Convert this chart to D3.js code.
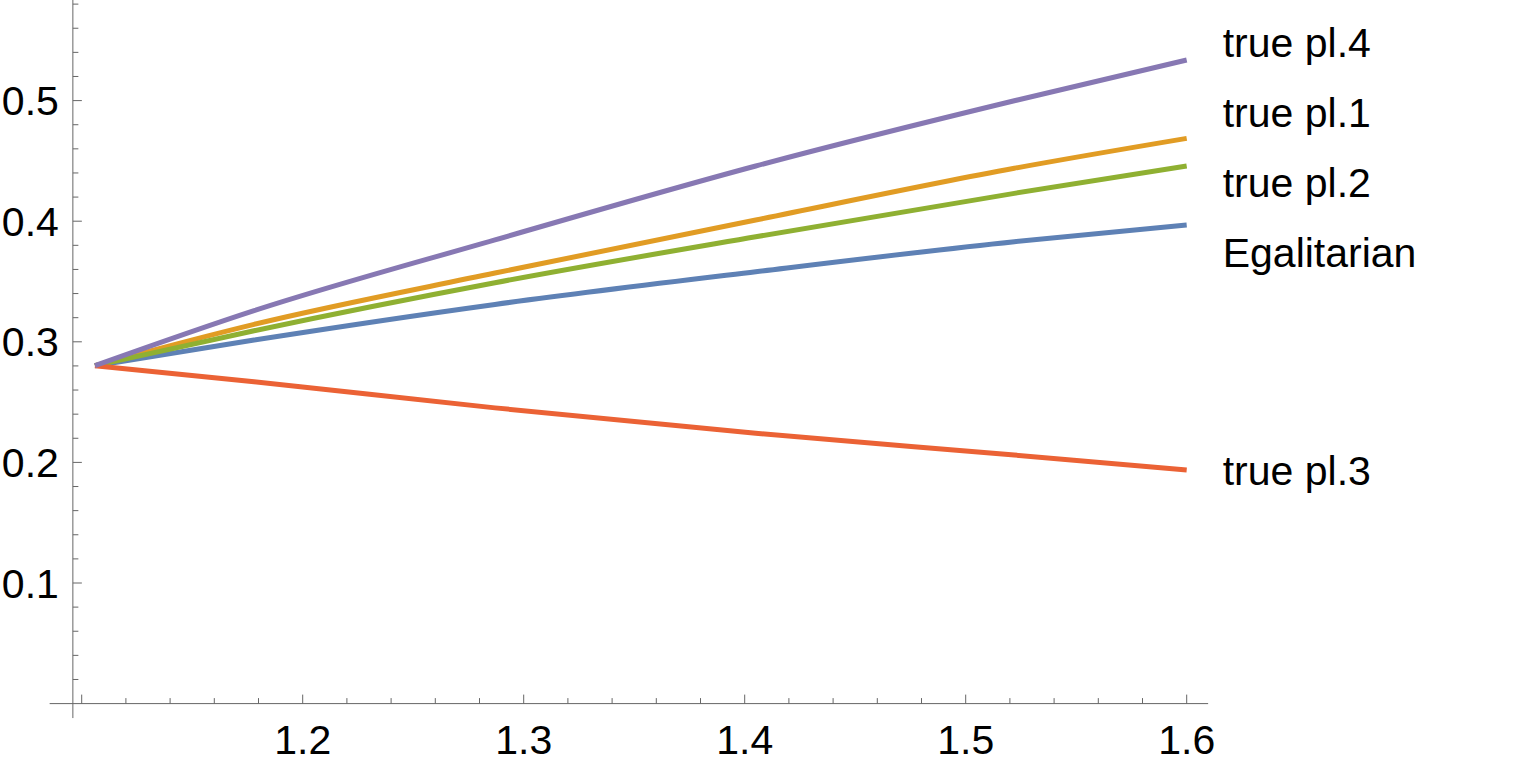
<!DOCTYPE html>
<html>
<head>
<meta charset="utf-8">
<script src="https://cdn.jsdelivr.net/npm/d3@7"></script>
<style>
  html, body { margin: 0; padding: 0; background: #fff; }
  svg { display: block; }
</style>
</head>
<body>
<svg id="chart" width="1536" height="765" font-family="'Liberation Sans', Arial, sans-serif"></svg>
<script>
// values
var xValues = [1.106, 1.178, 1.287, 1.405, 1.522, 1.6];
var seriesNames = ["Egalitarian", "true pl.1", "true pl.2", "true pl.3", "true pl.4"];
var egalitarian = [0.2802, 0.3015, 0.331, 0.3581, 0.383, 0.3968];
var truePl1 = [0.2802, 0.3145, 0.357, 0.401, 0.4439, 0.4687];
var truePl2 = [0.2802, 0.3092, 0.349, 0.3871, 0.4231, 0.4458];
var truePl3 = [0.2802, 0.2668, 0.2452, 0.2241, 0.2061, 0.1937];
var truePl4 = [0.2802, 0.3258, 0.3845, 0.4458, 0.4999, 0.5337];
var colors = ["#5E81B5", "#E19C24", "#8FB032", "#EB6235", "#8778B3"];

var xMajor = [1.1, 1.2, 1.3, 1.4, 1.5, 1.6];
var xLabels = ["", "1.2", "1.3", "1.4", "1.5", "1.6"];
var yMajor = [0.1, 0.2, 0.3, 0.4, 0.5];
var yLabels = ["0.1", "0.2", "0.3", "0.4", "0.5"];

var svg = d3.select("#chart");

// scales fitted to the reference axes
var x = d3.scaleLinear().domain([1.2, 1.6]).range([302.7, 1186.7]);
var y = d3.scaleLinear().domain([0, 0.5]).range([703.6, 100.6]);

var axisColor = "#666666";
var fontSize = 41;
var yAxisAt = 1.096;   // where the vertical axis crosses

// x axis line
svg.append("line")
  .attr("x1", x(1.0855)).attr("x2", x(1.6097))
  .attr("y1", y(0)).attr("y2", y(0))
  .attr("stroke", axisColor).attr("stroke-width", 1);

// y axis line
svg.append("line")
  .attr("x1", x(yAxisAt)).attr("x2", x(yAxisAt))
  .attr("y1", y(0.5845)).attr("y2", y(-0.012))
  .attr("stroke", axisColor).attr("stroke-width", 1);

// x ticks (minor every 0.02)
var xMinor = d3.range(1.1, 1.6001, 0.02).map(function(v) { return +v.toFixed(2); });
svg.append("g").selectAll("line")
  .data(xMinor)
  .enter().append("line")
    .attr("x1", function(d) { return x(d); })
    .attr("x2", function(d) { return x(d); })
    .attr("y1", y(0))
    .attr("y2", function(d) { return xMajor.indexOf(d) >= 0 ? y(0) - 9 : y(0) - 5.5; })
    .attr("stroke", axisColor).attr("stroke-width", 1);

svg.append("g").selectAll("text")
  .data(xMajor)
  .enter().append("text")
    .attr("x", function(d) { return x(d); })
    .attr("y", y(0) + 50)
    .attr("text-anchor", "middle")
    .attr("font-size", fontSize)
    .attr("fill", "#000")
    .text(function(d, i) { return xLabels[i]; });

// y ticks (minor every 0.02)
var yMinor = d3.range(0.02, 0.5801, 0.02).map(function(v) { return +v.toFixed(2); });
svg.append("g").selectAll("line")
  .data(yMinor)
  .enter().append("line")
    .attr("y1", function(d) { return y(d); })
    .attr("y2", function(d) { return y(d); })
    .attr("x1", x(yAxisAt))
    .attr("x2", function(d) { return yMajor.indexOf(d) >= 0 ? x(yAxisAt) + 9 : x(yAxisAt) + 5.5; })
    .attr("stroke", axisColor).attr("stroke-width", 1);

svg.append("g").selectAll("text")
  .data(yMajor)
  .enter().append("text")
    .attr("x", x(yAxisAt) - 14)
    .attr("y", function(d) { return y(d) + fontSize * 0.358; })
    .attr("text-anchor", "end")
    .attr("font-size", fontSize)
    .attr("fill", "#000")
    .text(function(d, i) { return yLabels[i]; });

// lines
var allSeries = [egalitarian, truePl1, truePl2, truePl3, truePl4];
var line = d3.line()
  .x(function(d, i) { return x(xValues[i]); })
  .y(function(d) { return y(d); })
  .curve(d3.curveMonotoneX);

svg.append("g").selectAll("path")
  .data(allSeries)
  .enter().append("path")
    .attr("d", line)
    .attr("fill", "none")
    .attr("stroke", function(d, i) { return colors[i]; })
    .attr("stroke-width", 5)
    .attr("stroke-linejoin", "round");

// end labels, pushed apart so they do not overlap
var gap = 70;
var labels = allSeries.map(function(s, i) {
  return { name: seriesNames[i], target: y(s[s.length - 1]), pos: y(s[s.length - 1]) };
}).sort(function(a, b) { return a.target - b.target; });

for (var iter = 0; iter < 200; iter++) {
  var moved = false;
  for (var k = 1; k < labels.length; k++) {
    var diff = labels[k].pos - labels[k - 1].pos;
    if (diff < gap - 0.01) {
      var push = (gap - diff) / 2;
      labels[k].pos += push;
      labels[k - 1].pos -= push;
      moved = true;
    }
  }
  if (!moved) break;
}

svg.append("g").selectAll("text")
  .data(labels)
  .enter().append("text")
    .attr("x", x(1.6) + 36)
    .attr("y", function(d) { return d.pos + fontSize * 0.358; })
    .attr("font-size", fontSize)
    .attr("fill", "#000")
    .text(function(d) { return d.name; });
</script>
</body>
</html>
